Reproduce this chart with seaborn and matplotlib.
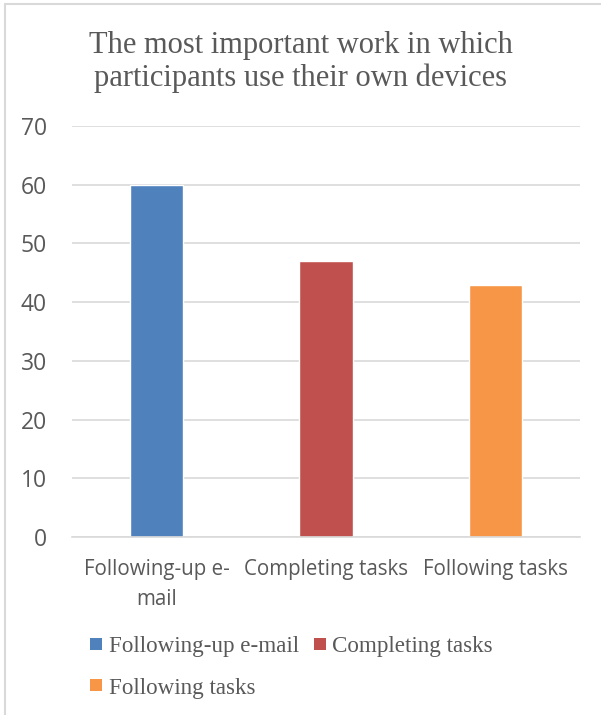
import matplotlib
matplotlib.use("Agg")
import matplotlib.pyplot as plt
from matplotlib.lines import Line2D
import seaborn as sns
import pandas as pd

# Chart data
categories = ["Following-up e-mail", "Completing tasks", "Following tasks"]
tick_labels = ["Following-up e-\nmail", "Completing tasks", "Following tasks"]
values = [60, 47, 43]
colors = ["#4f81bd", "#c0504d", "#f79646"]
title_lines = ["The most important work in which",
               "participants use their own devices"]

sns.set_theme(style="white")
plt.rcParams["font.family"] = ["Open Sans", "DejaVu Sans"]

TEXT = "#595959"
GRID = "#d9d9d9"

df = pd.DataFrame({"task": categories, "count": values})

fig = plt.figure(figsize=(6.01, 7.15), dpi=100)
W, H = 601, 715
ax = fig.add_axes([72 / W, 1 - 537 / H, 508 / W, 411 / H])

sns.barplot(data=df, x="task", y="count", hue="task", order=categories,
            hue_order=categories, palette=colors, width=0.313,
            saturation=1, legend=False, ax=ax)

ax.set_ylim(0, 70)
ax.set_yticks(range(0, 71, 10))
ax.set_xlim(-0.5, 2.5)
ax.set_xticks(range(len(categories)))
ax.set_xticklabels(tick_labels, linespacing=1.55)
ax.set_xlabel("")
ax.set_ylabel("")
ax.yaxis.grid(True, color=GRID, linewidth=1.2)
ax.set_axisbelow(True)
for side in ["top", "right", "left"]:
    ax.spines[side].set_visible(False)
ax.spines["bottom"].set_color(GRID)
ax.spines["bottom"].set_linewidth(1.2)
ax.tick_params(axis="y", length=0, pad=18, labelsize=16.5, labelcolor=TEXT)
ax.tick_params(axis="x", length=0, pad=16, labelsize=14.8, labelcolor=TEXT)

# Two-line title, each line on its own baseline
for line, base in zip(title_lines, [53, 86]):
    fig.text(0.5, 1 - base / H, line, ha="center", va="baseline",
             fontsize=22, color=TEXT, family="Liberation Serif")

# Legend, filled row by row
order = [0, 2, 1]
handles = [Line2D([], [], linestyle="none", marker="s", markersize=8.5,
                  markerfacecolor=colors[i], markeredgewidth=0) for i in order]
labels = [categories[i] for i in order]
leg = fig.legend(handles, labels, ncol=2, loc="upper left",
                 bbox_to_anchor=(80 / W, 1 - 627 / H), frameon=False,
                 prop={"family": "Liberation Serif", "size": 16.6},
                 labelcolor=TEXT, handlelength=0.6, handletextpad=0.25,
                 columnspacing=0.6, labelspacing=0.87, borderaxespad=0)

# Chart frame edges
fig.add_artist(Line2D([5 / W, 1], [1 - 4 / H, 1 - 4 / H], color=GRID, linewidth=1.5))
fig.add_artist(Line2D([5 / W, 5 / W], [0, 1 - 4 / H], color=GRID, linewidth=1.5))

fig.savefig("out.png", dpi=100)
